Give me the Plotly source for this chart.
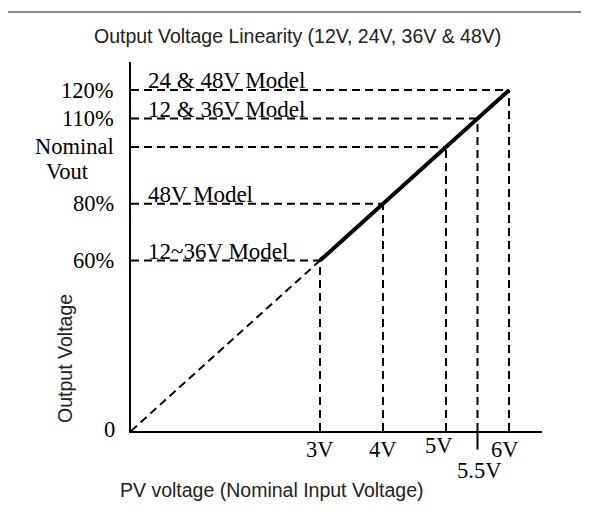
import plotly.graph_objects as go

# ---- data ----
pv_levels = [3, 4, 5, 5.5, 6]                 # PV voltage marks (V)
out_levels = [60, 80, 100, 110, 120]          # output voltage marks (%)
x_tick_labels = ["3V", "4V", "5V", "5.5V", "6V"]
y_tick_labels = ["60%", "80%", "Nominal", "110%", "120%"]
model_labels = ["12~36V Model", "48V Model", "", "12 & 36V Model", "24 & 48V Model"]
origin_x = [0, 3]
origin_y = [0, 60]
linear_x = [3, 6]
linear_y = [60, 120]

SERIF = "Liberation Serif, Times New Roman, serif"
SANS = "Liberation Sans, Arial, sans-serif"
DASH = "8px,5px"
TICK_SIZE = 22.5
MODEL_SIZE = 23

fig = go.Figure()

# horizontal dashed guides
for xv, yv in zip(pv_levels, out_levels):
    fig.add_trace(go.Scatter(x=[0, xv], y=[yv, yv], mode="lines",
                             line=dict(color="black", width=2, dash=DASH),
                             hoverinfo="skip", showlegend=False))
# vertical dashed guides
for xv, yv in zip(pv_levels, out_levels):
    fig.add_trace(go.Scatter(x=[xv, xv], y=[0, yv], mode="lines",
                             line=dict(color="black", width=2, dash=DASH),
                             hoverinfo="skip", showlegend=False))
# dashed extrapolation from origin
fig.add_trace(go.Scatter(x=origin_x, y=origin_y, mode="lines",
                         line=dict(color="black", width=2, dash=DASH),
                         hoverinfo="skip", showlegend=False))
# solid linear range
fig.add_trace(go.Scatter(x=linear_x, y=linear_y, mode="lines",
                         line=dict(color="black", width=4),
                         hoverinfo="skip", showlegend=False))

ann = []
# y tick labels
for lab, yv in zip(y_tick_labels, out_levels):
    ann.append(dict(x=0, xref="paper", y=yv, yref="y", text=lab, showarrow=False,
                    xanchor="right", yanchor="middle", xshift=-15,
                    font=dict(family=SERIF, size=TICK_SIZE, color="black")))
ann.append(dict(x=0, xref="paper", y=out_levels[2], yref="y", text="Vout", showarrow=False,
                xanchor="left", yanchor="middle", xshift=-87, yshift=-25,
                font=dict(family=SERIF, size=TICK_SIZE, color="black")))
ann.append(dict(x=0, xref="paper", y=0, yref="y", text="0", showarrow=False,
                xanchor="right", yanchor="middle", xshift=-14, yshift=2,
                font=dict(family=SERIF, size=TICK_SIZE, color="black")))
# x tick labels
x_shifts = [0, 0, -7, 2, -4]
y_shifts = [-18, -18, -14, -39, -18]
for lab, xv, xs, ys in zip(x_tick_labels, pv_levels, x_shifts, y_shifts):
    ann.append(dict(x=xv, xref="x", y=0, yref="paper", text=lab, showarrow=False,
                    xanchor="center", yanchor="middle", xshift=xs, yshift=ys,
                    font=dict(family=SERIF, size=TICK_SIZE, color="black")))
# model labels
for lab, yv in zip(model_labels, out_levels):
    if lab:
        ann.append(dict(x=0, xref="x", y=yv, yref="y", text=lab, showarrow=False,
                        xanchor="left", yanchor="bottom", xshift=15, yshift=-5,
                        font=dict(family=SERIF, size=MODEL_SIZE, color="black")))
# titles
ann.append(dict(x=0.404, xref="paper", y=1.0705, yref="paper",
                text="Output Voltage Linearity (12V, 24V, 36V & 48V)", showarrow=False,
                xanchor="center", yanchor="middle",
                font=dict(family=SANS, size=19.5, color="#222")))
ann.append(dict(x=-0.1606, xref="paper", y=0.198, yref="paper",
                text="Output Voltage", showarrow=False, textangle=-90,
                xanchor="center", yanchor="middle",
                font=dict(family=SANS, size=19.5, color="#222")))
ann.append(dict(x=0.343, xref="paper", y=-0.160, yref="paper",
                text="PV voltage (Nominal Input Voltage)", showarrow=False,
                xanchor="center", yanchor="middle",
                font=dict(family=SANS, size=19.5, color="#222")))

shapes = [
    # small solid tick under the axis at 5.5V
    dict(type="line", xref="x", yref="paper", x0=pv_levels[3], x1=pv_levels[3],
         y0=0, y1=-0.05, line=dict(color="black", width=2)),
    # outer frame
    dict(type="rect", xref="paper", yref="paper", x0=-0.3017, x1=1.25, y0=-0.35, y1=1.1355,
         line=dict(color="#888888", width=2)),
]

# the page body has an 8px margin, so the margins are shifted to compensate
fig.update_layout(
    width=589, height=515,
    margin=dict(l=123, r=55, t=54, b=92),
    paper_bgcolor="white", plot_bgcolor="white",
    xaxis=dict(range=[0, 6.524], showgrid=False, zeroline=False, showticklabels=False,
               ticks="", showline=True, linecolor="black", linewidth=2, fixedrange=True),
    yaxis=dict(range=[0, 129.9], showgrid=False, zeroline=False, showticklabels=False,
               ticks="", showline=True, linecolor="black", linewidth=2, fixedrange=True),
    annotations=ann, shapes=shapes, showlegend=False,
)

fig.write_html("out.html")
